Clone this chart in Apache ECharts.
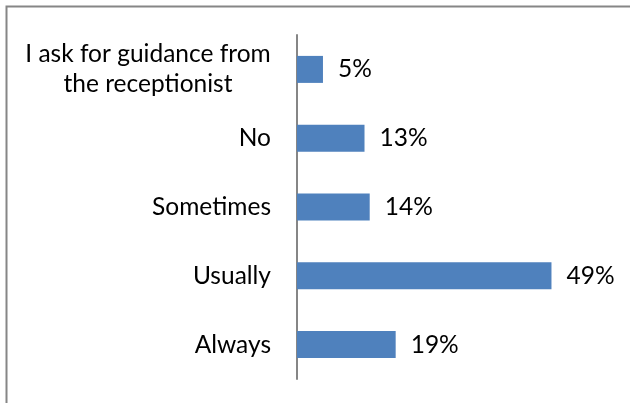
<!DOCTYPE html>
<html>
<head>
<meta charset="utf-8">
<style>
  html, body { margin: 0; padding: 0; background: #ffffff; }
  #chart { width: 630px; height: 403px; }
</style>
<script src="https://cdn.jsdelivr.net/npm/echarts@6/dist/echarts.min.js"></script>
</head>
<body>
<div id="chart"></div>
<script>
// Survey answers, top to bottom
const categories = [
  'I ask for guidance from\nthe receptionist',
  'No',
  'Sometimes',
  'Usually',
  'Always'
];
// Share of respondents (%)
const shares = [5, 13, 14, 49, 19];

const FONT = 'Lato';
const FONT_SIZE = 24.5;

const chart = echarts.init(document.getElementById('chart'), null, { renderer: 'canvas' });

chart.setOption({
  animation: false,
  backgroundColor: '#ffffff',
  // chart-area frame (left and top edges fall inside the canvas)
  graphic: [{
    type: 'polyline',
    silent: true,
    shape: { points: [[6.5, 420], [6.5, 6.5], [660, 6.5]] },
    style: { fill: 'none', stroke: '#868686', lineWidth: 2 }
  }],
  grid: { left: 297, top: 35, width: 311.6, height: 344, containLabel: false },
  xAxis: {
    type: 'value',
    min: 0,
    max: 60,
    show: false,
    splitLine: { show: false }
  },
  yAxis: {
    type: 'category',
    inverse: true,
    data: categories,
    axisLine: { show: true, lineStyle: { color: '#868686', width: 2 } },
    axisTick: { show: false },
    axisLabel: {
      margin: 26,
      color: '#000000',
      fontFamily: FONT,
      fontSize: FONT_SIZE,
      lineHeight: 30,
      // multi-line answers are centred line by line inside one block
      formatter: function (v) {
        if (v.indexOf('\n') < 0) return v;
        return v.split('\n').map(function (l) { return '{c|' + l + '}'; }).join('\n');
      },
      rich: {
        c: {
          color: '#000000',
          fontFamily: FONT,
          fontSize: FONT_SIZE,
          lineHeight: 30,
          width: 246,
          align: 'center'
        }
      }
    }
  },
  series: [{
    type: 'bar',
    data: shares,
    barWidth: 27,
    itemStyle: { color: '#4F81BD' },
    label: {
      show: true,
      position: 'right',
      distance: 15,
      color: '#000000',
      fontFamily: FONT,
      fontSize: FONT_SIZE,
      formatter: function (p) { return p.value + '%'; }
    }
  }]
});
</script>
</body>
</html>
